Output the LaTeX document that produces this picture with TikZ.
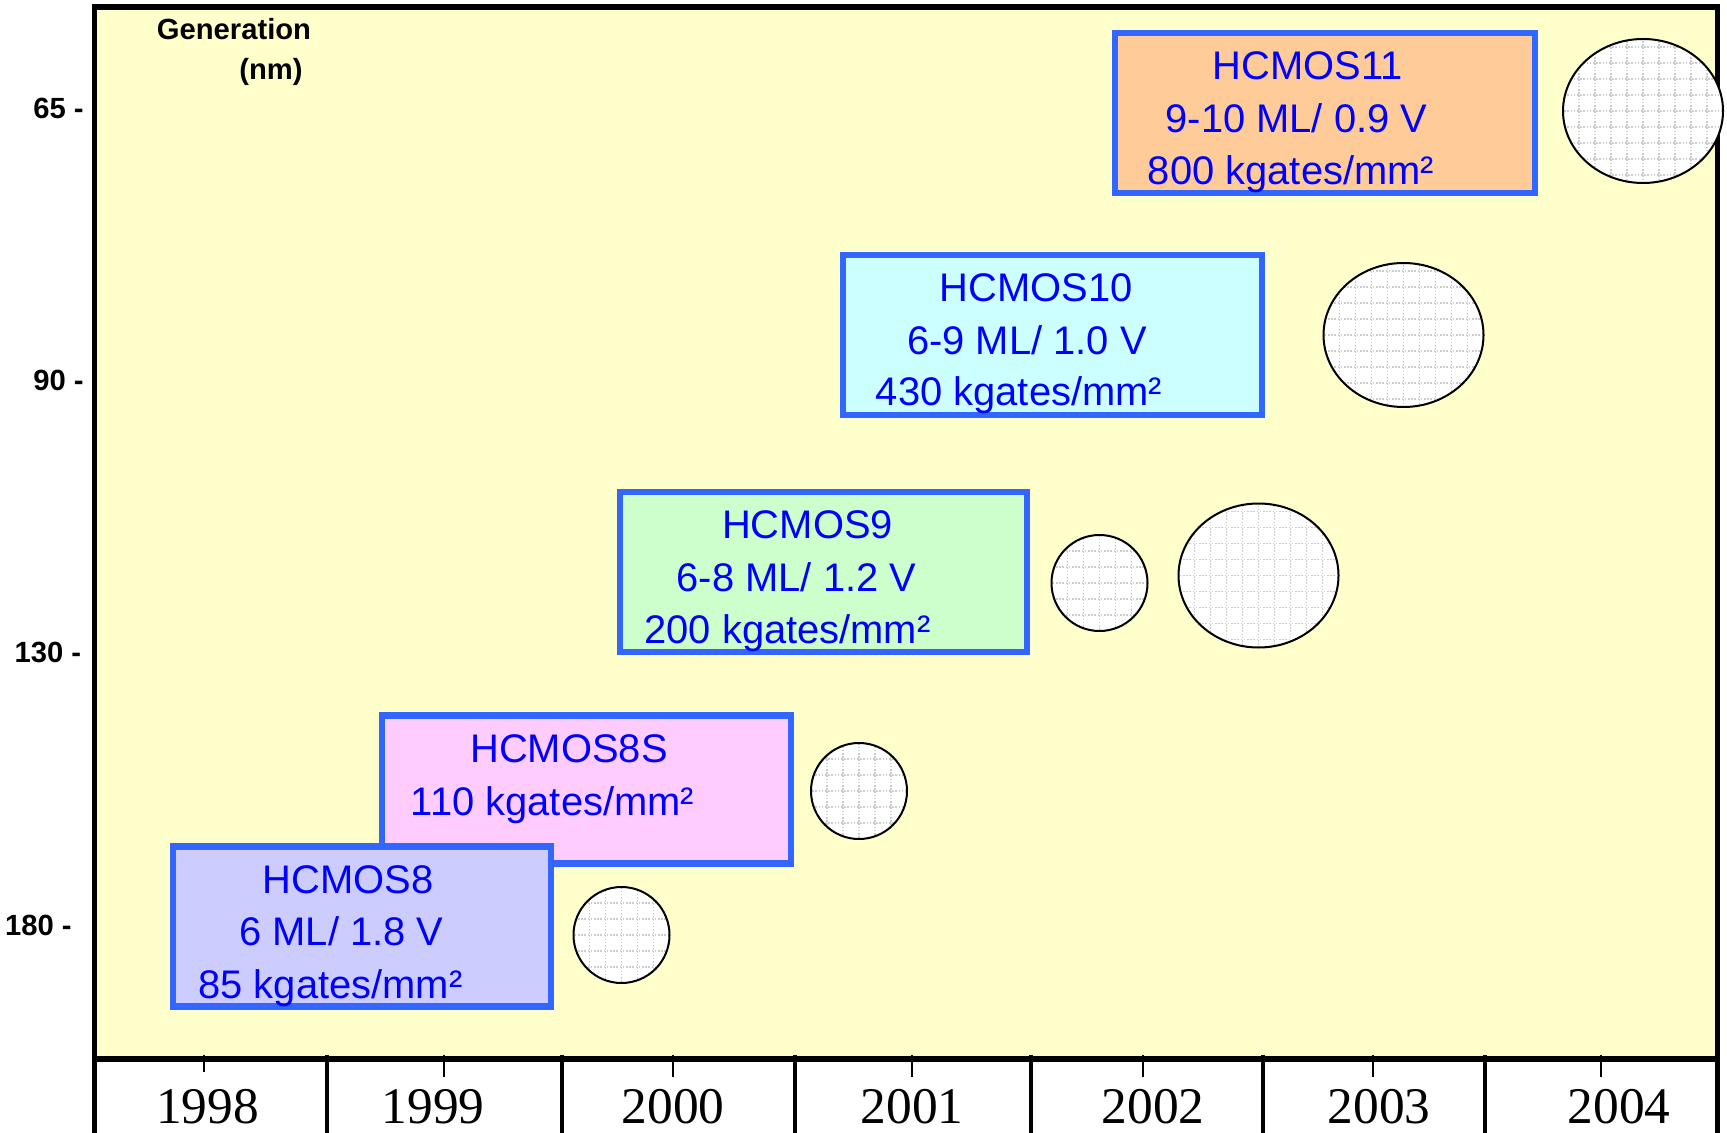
\documentclass[tikz,border=0pt]{standalone}
\usepackage{fontspec}
\setmainfont{Liberation Sans}
\newfontfamily\yearfont{Liberation Serif}
\definecolor{chartbg}{RGB}{255,255,204}
\definecolor{boxline}{RGB}{51,102,255}
\definecolor{textblue}{RGB}{0,0,255}
\definecolor{orangefill}{RGB}{255,204,153}
\definecolor{cyanfill}{RGB}{204,255,255}
\definecolor{greenfill}{RGB}{204,255,204}
\definecolor{pinkfill}{RGB}{255,204,255}
\definecolor{lilacfill}{RGB}{204,204,255}
\usetikzlibrary{shapes.geometric}

\begin{document}
\begin{tikzpicture}[
    x=0.5pt, y=-0.5pt,
    process/.style={rectangle, draw=boxline, line width=3.4pt, minimum width=203.5pt, minimum height=80pt, inner sep=0pt},
    wafer/.style={ellipse, draw=black, line width=1pt, fill=white, inner sep=0pt, minimum width=80pt, minimum height=72pt,
        path picture={\draw[gray!40, line width=0.8pt, dash pattern=on 0.8pt off 0.8pt, shift={(path picture bounding box.center)}] (-98,-98) grid[step=8pt] (98,98);}},
    smallwafer/.style={wafer, minimum width=48pt, minimum height=48pt},
    info/.style={anchor=base, text=textblue, font=\fontsize{19.95pt}{22pt}\selectfont, inner sep=0pt},
    gen/.style={anchor=base east, font=\fontsize{14.6pt}{16pt}\selectfont\bfseries, inner sep=0pt},
    year/.style={anchor=base, font=\fontsize{25.7pt}{28pt}\yearfont, inner sep=0pt},
    major/.style={line width=2.2pt},
    minor/.style={line width=1pt}
]
    \useasboundingbox (0,0) rectangle (1727,1133);

    \fill[chartbg] (94.5,7) rectangle (1717.5,1059);
    \draw[line width=2.8pt] (94.5,1133) -- (94.5,7) -- (1717.5,7) -- (1717.5,1133);
    \draw[line width=2.8pt] (94.5,1059) -- (1717.5,1059);

    \foreach \x in {327,562,795,1031,1263,1485}
        \draw[major] (\x,1055) -- (\x,1133);
    \foreach \x/\yend in {204/1072,444/1077,673/1077,912/1077,1143/1077,1373/1077,1601/1077}
        \draw[minor] (\x,1055) -- (\x,\yend);

    \node[year] (y1998) at (207.5,1123) {1998};
    \node[year] (y1999) at (433,1123) {1999};
    \node[year] (y2000) at (673,1123) {2000};
    \node[year] (y2001) at (912,1123) {2001};
    \node[year] (y2002) at (1153,1123) {2002};
    \node[year] (y2003) at (1379,1123) {2003};
    \node[year] (y2004) at (1619,1123) {2004};

    \node[gen, anchor=base] (gentitle) at (234,40) {Generation};
    \node[gen, anchor=base] (genunit) at (271,80) {(nm)};
    \node[gen] (g65) at (84,119) {65 -};
    \node[gen] (g90) at (84,391) {90 -};
    \node[gen] (g130) at (81.5,662) {130 -};
    \node[gen] (g180) at (72,935) {180 -};

    \node[process, fill=orangefill, minimum width=210pt] (hcmos11) at (1325,113) {};
    \node[process, fill=cyanfill, minimum width=209.5pt] (hcmos10) at (1052.5,335) {};
    \node[process, fill=greenfill] (hcmos9) at (823.5,572) {};
    \node[process, fill=pinkfill, minimum width=204.5pt, minimum height=74pt] (hcmos8s) at (586.5,789.5) {};
    \node[process, fill=lilacfill, minimum width=189pt] (hcmos8) at (362,926.5) {};

    \node[info] (n11a) at (1307.5,80) {HCMOS11};
    \node[info] (n11b) at (1296.5,133) {9-10 ML/ 0.9 V};
    \node[info] (n11c) at (1291,185) {800 kgates/mm²};
    \node[info] (n10a) at (1036,302) {HCMOS10};
    \node[info] (n10b) at (1027,355) {6-9 ML/ 1.0 V};
    \node[info] (n10c) at (1019,406) {430 kgates/mm²};
    \node[info] (n9a) at (807.5,538) {HCMOS9};
    \node[info] (n9b) at (796.5,591) {6-8 ML/ 1.2 V};
    \node[info] (n9c) at (787.5,643) {200 kgates/mm²};
    \node[info] (n8sa) at (569,762) {HCMOS8S};
    \node[info] (n8sb) at (552.5,815) {110 kgates/mm²};
    \node[info] (n8a) at (348,893) {HCMOS8};
    \node[info] (n8b) at (341.5,945) {6 ML/ 1.8 V};
    \node[info] (n8c) at (330.5,998) {85 kgates/mm²};

    \node[wafer] (w11) at (1643,111) {};
    \node[wafer] (w10) at (1403.5,335) {};
    \node[wafer] (w9big) at (1258.5,575.5) {};
    \node[smallwafer] (w9small) at (1099.5,583) {};
    \node[smallwafer] (w8s) at (859,791) {};
    \node[smallwafer] (w8) at (621.5,935) {};
\end{tikzpicture}
\end{document}
